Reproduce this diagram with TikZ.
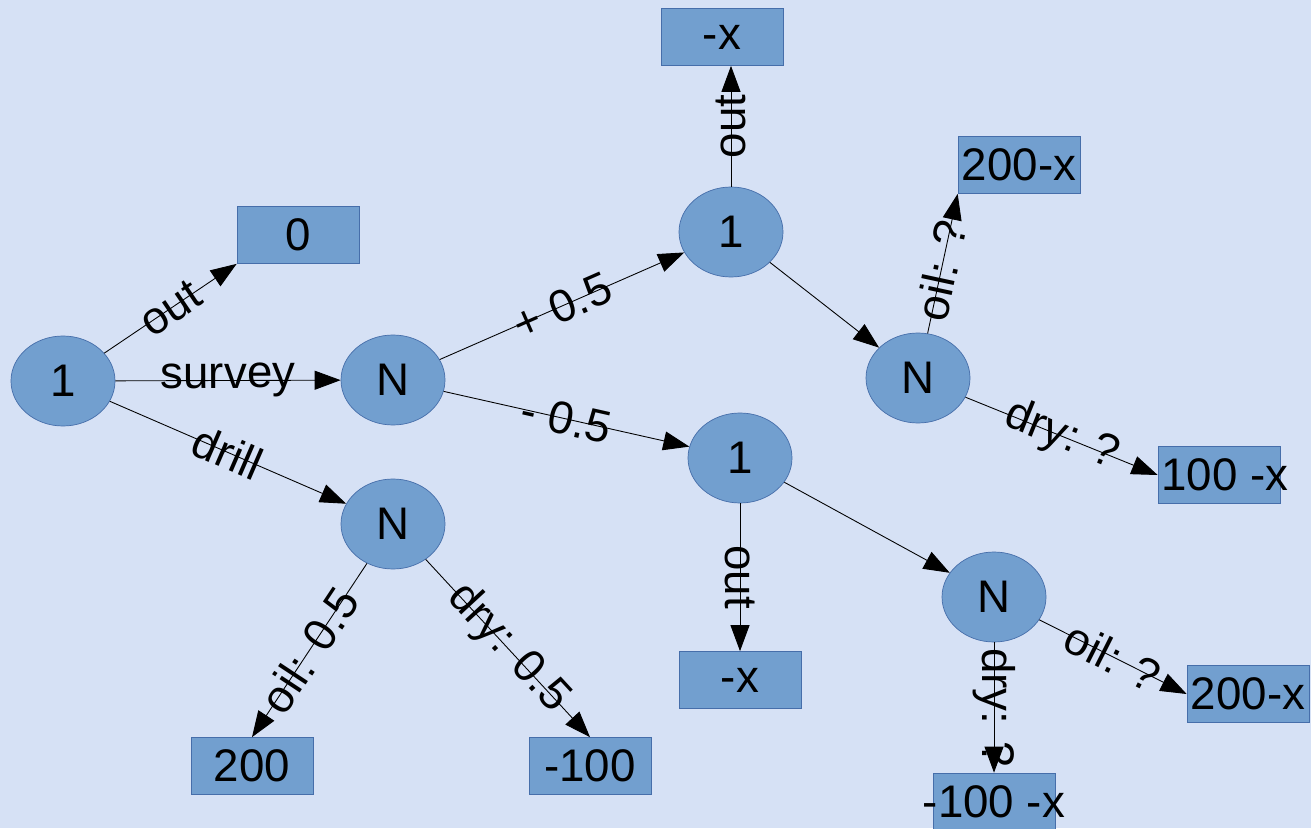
\documentclass[tikz,border=0pt]{standalone}
\usepackage{fontspec}
\setmainfont{Liberation Sans}
\usetikzlibrary{positioning, arrows.meta, shapes.geometric}

\definecolor{bgblue}{RGB}{214,225,245}
\definecolor{nodeblue}{RGB}{114,159,207}
\definecolor{rimblue}{RGB}{70,110,170}

\begin{document}
\begin{tikzpicture}[
  font=\fontsize{26}{30}\selectfont,
  % Node styles
  choice/.style={draw=rimblue, ellipse, fill=nodeblue, minimum width=2.08cm, minimum height=1.8cm, inner sep=0pt, line width=0.4pt},
  payoff/.style={draw=rimblue, rectangle, fill=nodeblue, minimum width=2.44cm, minimum height=1.14cm, inner sep=0pt, line width=0.4pt},
  % Arrow styles
  line/.style={draw, -{Triangle[length=0.52cm, width=0.38cm]}, line width=0.5pt},
  lbl/.style={midway, sloped, inner sep=0pt}
]

  % Background
  \fill[bgblue] (0,0) rectangle (26.22,16.56);
  \useasboundingbox (0,0) rectangle (26.22,16.56);

  % ==========================================
  % ROOT DECISION
  % ==========================================
  \node[choice] (root) at (1.26, 8.94) {1};
  \node[payoff] (zero) at (5.96, 11.86) {0};

  \draw[line] (root) -- node[lbl] {out} (zero.south west);

  % ==========================================
  % DRILL BRANCH
  % ==========================================
  \node[choice] (drillN) at (7.86, 6.08) {N};
  \node[payoff] (oilD) at (5.04, 1.24) {200};
  \node[payoff] (dryD) at (11.80, 1.24) {-100};

  \draw[line] (root) -- node[lbl] {drill} (drillN);
  \draw[line] (drillN) -- node[lbl] {oil: 0.5} (oilD.north);
  \draw[line] (drillN) -- node[lbl] {dry: 0.5} (dryD.north);

  % ==========================================
  % SURVEY BRANCH
  % ==========================================
  \node[choice] (surveyN) at (7.86, 8.96) {N};
  \draw[line] (root) -- node[lbl] {survey} (surveyN);

  % Good survey result
  \node[choice] (goodD) at (14.62, 11.92) {1};
  \node[payoff] (goodOut) at (14.44, 15.82) {-x};
  \node[choice] (goodN) at (18.36, 9.00) {N};
  \node[payoff] (goodOil) at (20.38, 13.26) {200-x};
  \node[payoff] (goodDry) at (24.38, 7.06) {\makebox[0pt]{\hspace{0.24cm}100 -x}};

  \draw[line] (surveyN) -- node[lbl] {+ 0.5} (goodD);
  \draw[line] (goodD) -- node[lbl] {out} (goodD |- goodOut.south);
  \draw[line] (goodD) -- (goodN);
  \draw[line] (goodN) -- node[lbl, pos=0.45] {oil: ?} (goodOil.south west);
  \draw[line] (goodN) -- node[lbl] {dry: ?} (goodDry.west);

  % Bad survey result
  \node[choice] (badD) at (14.80, 7.40) {1};
  \node[payoff] (badOut) at (14.80, 2.96) {-x};
  \node[choice] (badN) at (19.88, 4.62) {N};
  \node[payoff] (badOil) at (24.96, 2.68) {200-x};
  \node[payoff] (badDry) at (19.88, 0.53) {\makebox[0pt]{-100 -x}};

  \draw[line] (surveyN) -- node[lbl] {- 0.5} (badD);
  \draw[line] (badD) -- node[lbl] {out} (badOut);
  \draw[line] (badD) -- (badN);
  \draw[line] (badN) -- node[lbl] {oil: ?} (badOil.west);
  \draw[line] (badN) -- node[lbl] {dry: ?} (badDry);

\end{tikzpicture}
\end{document}
